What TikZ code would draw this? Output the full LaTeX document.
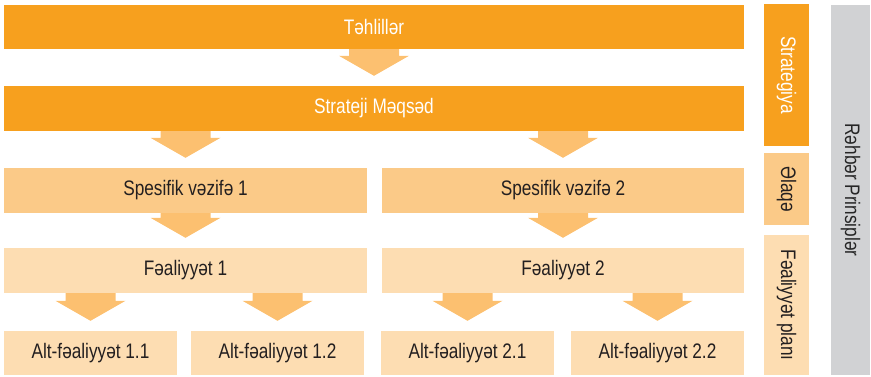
\documentclass[tikz,border=0pt]{standalone}
\usepackage{fontspec}
\setmainfont{Liberation Sans}[FakeStretch=0.82]
\usetikzlibrary{calc}

\definecolor{darkorange}{HTML}{F7A01E}
\definecolor{midorange}{HTML}{FBCA88}
\definecolor{lightorange}{HTML}{FDDDB2}
\definecolor{arroworange}{HTML}{FCC070}
\definecolor{sidegray}{HTML}{D1D2D4}
\definecolor{textdark}{HTML}{231F20}

\tikzset{
  box/.style={inner sep=0pt, minimum height=45pt, font=\fontsize{21}{25}\selectfont, text=textdark},
  levelone/.style={box, fill=darkorange, text=white},
  leveltwo/.style={box, fill=midorange},
  levelthree/.style={box, fill=lightorange},
  sidebox/.style={box, rotate=-90},
  arrowfill/.style={fill=arroworange}
}

% block arrow from the bottom of #1 down to just above #2
\newcommand{\flowarrow}[2]{%
  \fill[arrowfill] let \p1=(#1.south -| #2.north), \p2=(#2.north) in
    ({\x1-25pt},\y1) -- ({\x1+25pt},\y1) -- ({\x1+25pt},{\y2+30pt})
    -- ({\x1+35pt},{\y2+30pt}) -- (\x1,{\y2+10pt}) -- ({\x1-35pt},{\y2+30pt})
    -- ({\x1-25pt},{\y2+30pt}) -- cycle;}

\begin{document}
\begin{tikzpicture}[x=1pt,y=-1pt]
  \useasboundingbox (0,0) rectangle (871,376);
  % main column
  \node[levelone, minimum width=740pt, minimum height=44pt] (tahlil) at (374,27) {Təhlillər};
  \node[levelone, minimum width=740pt] (meqsed) at (374,108.5) {Strateji Məqsəd};
  \node[leveltwo, minimum width=363pt] (vezife1) at (185.5,190.5) {Spesifik vəzifə 1};
  \node[leveltwo, minimum width=362pt] (vezife2) at (563,190.5) {Spesifik vəzifə 2};
  \node[levelthree, minimum width=363pt] (faal1) at (185.5,270.5) {Fəaliyyət 1};
  \node[levelthree, minimum width=362pt] (faal2) at (563,270.5) {Fəaliyyət 2};
  \node[levelthree, minimum width=173pt, minimum height=44pt] (alt11) at (90.5,353) {Alt-fəaliyyət 1.1};
  \node[levelthree, minimum width=173pt, minimum height=44pt] (alt12) at (277.5,353) {Alt-fəaliyyət 1.2};
  \node[levelthree, minimum width=173pt, minimum height=44pt] (alt21) at (467.5,353) {Alt-fəaliyyət 2.1};
  \node[levelthree, minimum width=173pt, minimum height=44pt] (alt22) at (657.5,353) {Alt-fəaliyyət 2.2};
  % side bars
  \node[sidebox, fill=darkorange, text=white, minimum width=142pt] (strategiya) at (786.5,75) {Strategiya};
  \node[sidebox, fill=midorange, minimum width=72pt] (elaqe) at (786.5,189) {Əlaqə};
  \node[sidebox, fill=lightorange, minimum width=140pt] (plan) at (786.5,305) {Fəaliyyət planı};
  \node[sidebox, fill=sidegray, text=black!85, minimum width=370pt, minimum height=39pt] (rehber) at (850.5,190) {Rəhbər Prinsiplər};
  % arrows
  \flowarrow{tahlil}{meqsed}
  \flowarrow{meqsed}{vezife1}
  \flowarrow{meqsed}{vezife2}
  \flowarrow{vezife1}{faal1}
  \flowarrow{vezife2}{faal2}
  \flowarrow{faal1}{alt11}
  \flowarrow{faal1}{alt12}
  \flowarrow{faal2}{alt21}
  \flowarrow{faal2}{alt22}
\end{tikzpicture}
\end{document}
